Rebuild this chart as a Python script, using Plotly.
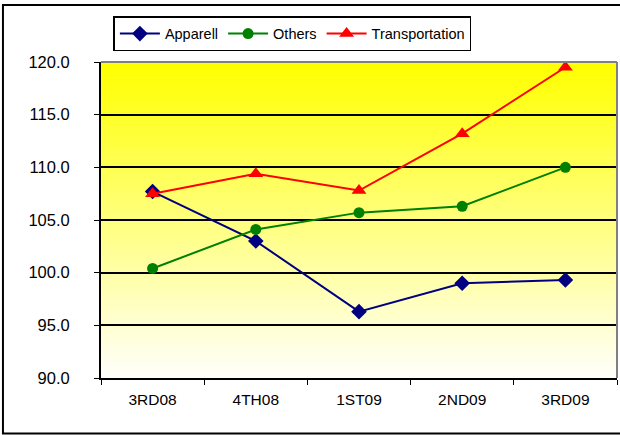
import plotly.graph_objects as go

# Quarterly index values by category
quarters = ["3RD08", "4TH08", "1ST09", "2ND09", "3RD09"]
apparell = [107.7, 103.0, 96.3, 99.0, 99.3]
others = [100.4, 104.1, 105.7, 106.3, 110.0]
transportation = [107.5, 109.4, 107.8, 113.2, 119.5]

y_ticks = [90, 95, 100, 105, 110, 115, 120]

FONT = "Liberation Sans, Arial, sans-serif"

fig = go.Figure()
fig.add_trace(go.Scatter(
    x=quarters, y=apparell, name="Apparell", mode="lines+markers",
    line=dict(color="#000080", width=2),
    marker=dict(symbol="diamond", size=12, color="#000080"),
))
fig.add_trace(go.Scatter(
    x=quarters, y=others, name="Others", mode="lines+markers",
    line=dict(color="#008000", width=2),
    marker=dict(symbol="circle", size=11, color="#008000"),
))
fig.add_trace(go.Scatter(
    x=quarters, y=transportation, name="Transportation", mode="lines+markers",
    line=dict(color="#FF0000", width=2),
    marker=dict(symbol="triangle-up", size=13, color="#FF0000"),
))

# Vertical yellow-to-white gradient behind the plot area
shapes = []
n = 80
for i in range(n):
    t = i / (n - 1)  # 0 at bottom, 1 at top
    b = int(round(250 * (1 - t)))
    shapes.append(dict(
        type="rect", xref="x domain", yref="y domain",
        x0=0, x1=1, y0=i / n, y1=(i + 1) / n + 0.002,
        fillcolor=f"rgb(255,255,{b})", line=dict(width=0), layer="below",
    ))
# Grey top and right edges of the plot area
shapes.append(dict(type="line", xref="paper", yref="paper", x0=0, x1=1, y0=1, y1=1,
                   line=dict(color="#808080", width=2), layer="above"))
shapes.append(dict(type="line", xref="paper", yref="paper", x0=1, x1=1, y0=0, y1=1,
                   line=dict(color="#808080", width=2), layer="above"))
# Outer chart frame
shapes.append(dict(type="rect", xref="paper", yref="paper",
                   x0=-0.19, x1=1.05, y0=-0.176, y1=1.18,
                   line=dict(color="#000000", width=2), fillcolor="rgba(0,0,0,0)",
                   layer="above"))

fig.update_layout(
    width=620, height=435,
    margin=dict(l=101, r=3, t=62, b=57),
    paper_bgcolor="white", plot_bgcolor="white",
    font=dict(family=FONT, color="black"),
    shapes=shapes,
    showlegend=True,
    legend=dict(
        orientation="h", x=0.024, y=1.145, xanchor="left", yanchor="top",
        bgcolor="white", bordercolor="black", borderwidth=1.5,
        font=dict(family=FONT, size=14.5), itemwidth=40,
        tracegroupgap=0,
    ),
    xaxis=dict(
        type="category", range=[-0.5, 4.5],
        tickmode="array", tickvals=quarters, ticktext=quarters,
        tickson="boundaries", ticks="outside", ticklen=5, tickcolor="black",
        showline=True, linecolor="black", linewidth=2,
        showgrid=False, tickfont=dict(size=15.5), zeroline=False,
        ticklabelstandoff=6,
    ),
    yaxis=dict(
        range=[90, 120], tickmode="array", tickvals=y_ticks,
        ticktext=[f"{v:.1f}" for v in y_ticks],
        ticks="outside", ticklen=5, tickcolor="black",
        showline=True, linecolor="black", linewidth=2,
        showgrid=True, gridcolor="black", gridwidth=1.5,
        tickfont=dict(size=16.5), zeroline=False,
        ticklabelstandoff=21,
    ),
)

fig.write_html("out.html")
